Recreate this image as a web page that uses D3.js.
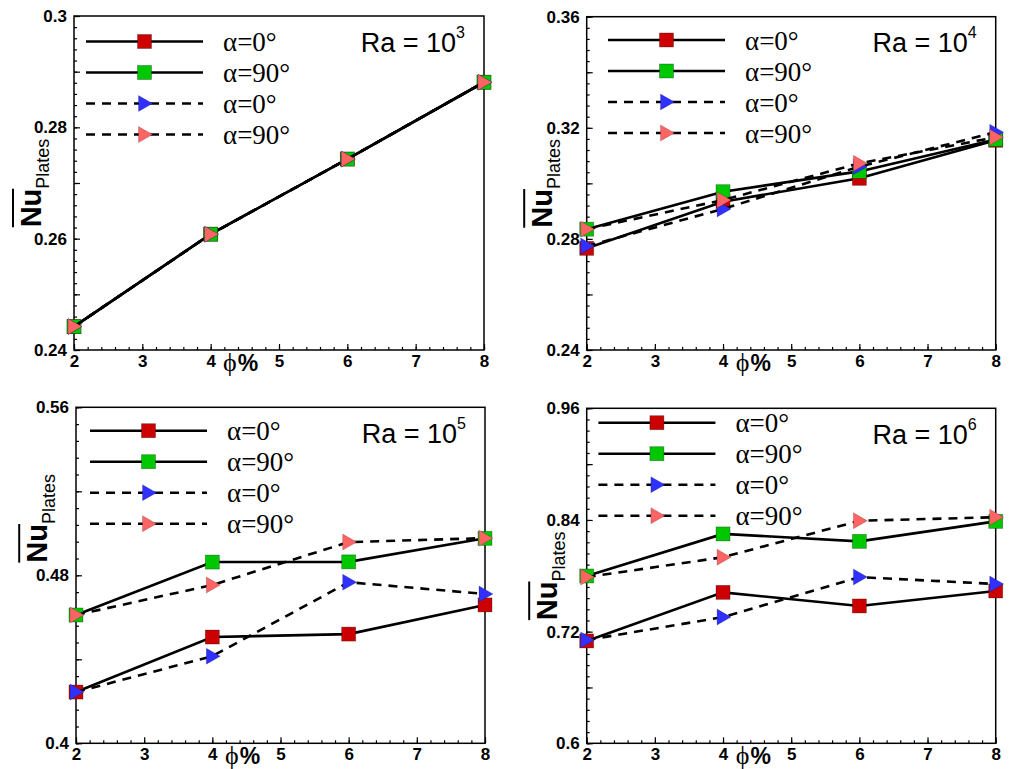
<!DOCTYPE html>
<html>
<head>
<meta charset="utf-8">
<script src="https://cdn.jsdelivr.net/npm/d3@7"></script>
<style>
  body { margin: 0; background: #fff; }
  svg { display: block; }
</style>
</head>
<body>
<div id="chart"></div>
<script>
// x values: nanoparticle volume fraction (%)
var phi = [2, 4, 6, 8];
var xTickLabels = [2, 3, 4, 5, 6, 7, 8];
var legendLabels = ["α=0°", "α=90°", "α=0°", "α=90°"];
var raExponents = ["3", "4", "5", "6"];

// average Nu on the plates; series order: solid α=0, solid α=90, dashed α=0, dashed α=90
var nuRa3 = [
  [0.2442, 0.2608, 0.2743, 0.2881],
  [0.2442, 0.2608, 0.2743, 0.2881],
  [0.2442, 0.2608, 0.2743, 0.2881],
  [0.2442, 0.2608, 0.2743, 0.2881]
];
var nuRa4 = [
  [0.2766, 0.2934, 0.3018, 0.3155],
  [0.2835, 0.2970, 0.3043, 0.3158],
  [0.2774, 0.2908, 0.3060, 0.3184],
  [0.2835, 0.2940, 0.3072, 0.3166]
];
var nuRa5 = [
  [0.4244, 0.4506, 0.4520, 0.4659],
  [0.4611, 0.4863, 0.4864, 0.4976],
  [0.4244, 0.4415, 0.4767, 0.4711],
  [0.4611, 0.4754, 0.4958, 0.4977]
];
var nuRa6 = [
  [0.7100, 0.7622, 0.7476, 0.7637],
  [0.7798, 0.8250, 0.8170, 0.8385],
  [0.7110, 0.7356, 0.7786, 0.7712],
  [0.7786, 0.8000, 0.8391, 0.8430]
];

// labelled y ticks of each panel
var yTicksRa3 = [0.24, 0.26, 0.28, 0.30];
var yTicksRa4 = [0.24, 0.28, 0.32, 0.36];
var yTicksRa5 = [0.40, 0.48, 0.56];
var yTicksRa6 = [0.60, 0.72, 0.84, 0.96];

var colours = ["#CC0000", "#00C800", "#3030FF", "#FF6464"];
var dashes = [null, null, "9,7", "9,7"];
var shapes = ["square", "square", "triangle", "triangle"];

var panels = [
  {data: nuRa3, ticks: yTicksRa3, left: 74, right: 484, top: 16, bottom: 350, legX: 12, legY: 25.5, titleX: -33.5, titleDy: 0},
  {data: nuRa4, ticks: yTicksRa4, left: 586.7, right: 995.7, top: 16.7, bottom: 350, legX: 21.3, legY: 23.3, titleX: -35, titleDy: 0},
  {data: nuRa5, ticks: yTicksRa5, left: 76, right: 485, top: 407.3, bottom: 743.3, legX: 14, legY: 23.4, titleX: -29.3, titleDy: -57},
  {data: nuRa6, ticks: yTicksRa6, left: 586.7, right: 995.7, top: 408.3, bottom: 743.3, legX: 11.7, legY: 14.4, titleX: -30, titleDy: 0}
];

var svg = d3.select("#chart").append("svg")
    .attr("width", 1010)
    .attr("height", 769)
    .style("background", "#fff");

var sansBold = "Liberation Sans, Arial, sans-serif";
var serif = "Liberation Serif, DejaVu Serif, serif";

function fmt(d) { return String(+d.toFixed(4)); }

// draws one marker centred at (cx, cy)
function marker(g, shape, colour, cx, cy) {
  if (shape == "square") {
    g.append("rect")
      .attr("x", cx - 7).attr("y", cy - 7)
      .attr("width", 14).attr("height", 14)
      .attr("fill", colour)
      .attr("stroke", "rgba(0,0,0,0.35)")
      .attr("stroke-width", 0.8);
  } else {
    g.append("path")
      .attr("d", "M" + (cx - 6) + "," + (cy - 8) + "L" + (cx + 8) + "," + cy + "L" + (cx - 6) + "," + (cy + 8) + "Z")
      .attr("fill", colour)
      .attr("stroke", "rgba(0,0,0,0.3)")
      .attr("stroke-width", 0.6);
  }
}

panels.forEach(function(p, i) {
  var g = svg.append("g");

  var x = d3.scaleLinear().domain([2, 8]).range([p.left, p.right]);
  var y = d3.scaleLinear()
      .domain([p.ticks[0], p.ticks[p.ticks.length - 1]])
      .range([p.bottom, p.top]);

  var step = p.ticks[1] - p.ticks[0];
  var minorY = d3.range(0, (p.ticks[p.ticks.length - 1] - p.ticks[0]) / step * 10 + 0.5)
      .map(function(k) { return p.ticks[0] + k * step / 10; });
  var mediumY = d3.range(0, p.ticks.length - 1)
      .map(function(k) { return p.ticks[0] + (k + 0.5) * step; });
  var minorX = d3.range(0, 31).map(function(k) { return 2 + k * 0.2; });

  // frame
  g.append("rect")
    .attr("x", p.left).attr("y", p.top)
    .attr("width", p.right - p.left).attr("height", p.bottom - p.top)
    .attr("fill", "none")
    .attr("stroke", "#000")
    .attr("stroke-width", 1.5);

  // minor ticks (inside the frame)
  g.append("g")
    .attr("transform", "translate(" + p.left + ",0)")
    .call(d3.axisLeft(y).tickValues(minorY).tickSize(-3).tickFormat(""))
    .call(function(a) { a.select(".domain").remove(); });
  g.append("g")
    .attr("transform", "translate(0," + p.bottom + ")")
    .call(d3.axisBottom(x).tickValues(minorX).tickSize(-3).tickFormat(""))
    .call(function(a) { a.select(".domain").remove(); });
  g.append("g")
    .attr("transform", "translate(" + p.left + ",0)")
    .call(d3.axisLeft(y).tickValues(mediumY).tickSize(-6).tickFormat(""))
    .call(function(a) { a.select(".domain").remove(); });

  // labelled ticks
  var ya = g.append("g")
    .attr("transform", "translate(" + p.left + ",0)")
    .call(d3.axisLeft(y).tickValues(p.ticks).tickSize(-6).tickPadding(7).tickFormat(fmt));
  ya.select(".domain").remove();
  ya.selectAll("text")
    .style("font-family", sansBold).style("font-weight", "bold")
    .style("font-size", "17px").attr("fill", "#000");

  var xa = g.append("g")
    .attr("transform", "translate(0," + p.bottom + ")")
    .call(d3.axisBottom(x).tickValues(xTickLabels).tickSize(-6).tickPadding(5).tickFormat(d3.format("d")));
  xa.select(".domain").remove();
  xa.selectAll("text")
    .style("font-family", sansBold).style("font-weight", "bold")
    .style("font-size", "17px").attr("fill", "#000");
  g.selectAll(".tick line").attr("stroke", "#000").attr("stroke-width", 1.2);

  // x axis title
  var xt = g.append("text")
    .attr("x", p.left + 149)
    .attr("y", p.bottom + 20.5);
  xt.append("tspan").text("ϕ")
    .style("font-family", serif).style("font-size", "26px");
  xt.append("tspan").text("%")
    .attr("dx", 1)
    .style("font-family", sansBold).style("font-weight", "bold").style("font-size", "23px");

  // y axis title: Nu with overbar, subscript Plates
  var yt = g.append("g")
    .attr("transform", "translate(" + (p.left + p.titleX) + "," + ((p.top + p.bottom) / 2 + p.titleDy) + ")rotate(-90)");
  var tt = yt.append("text").attr("x", 0).attr("y", 0);
  tt.append("tspan").text("Nu")
    .style("font-family", sansBold).style("font-weight", "bold").style("font-size", "29px");
  tt.append("tspan").text("Plates")
    .attr("dy", 8)
    .style("font-family", sansBold).style("font-size", "18px");
  var total = tt.node().getComputedTextLength();
  var nuLen = tt.node().getSubStringLength(0, 2);
  tt.attr("x", -total / 2);
  yt.append("line")
    .attr("x1", -total / 2).attr("x2", -total / 2 + nuLen)
    .attr("y1", -27.5).attr("y2", -27.5)
    .attr("stroke", "#000").attr("stroke-width", 2);

  // Ra label
  var rt = g.append("text")
    .attr("x", p.right - 19)
    .attr("y", p.top + 35.5)
    .attr("text-anchor", "end")
    .style("font-family", "Liberation Sans, Arial, sans-serif");
  rt.append("tspan").text("Ra = 10").style("font-size", "27px");
  rt.append("tspan").text(raExponents[i]).attr("dy", -14).style("font-size", "16px");

  // legend
  legendLabels.forEach(function(lab, k) {
    var ly = p.top + p.legY + k * 31;
    var lx = p.left + p.legX;
    g.append("line")
      .attr("x1", lx).attr("x2", lx + 117)
      .attr("y1", ly).attr("y2", ly)
      .attr("stroke", "#000").attr("stroke-width", 2.6)
      .attr("stroke-dasharray", dashes[k]);
    marker(g, shapes[k], colours[k], lx + 58.5, ly);
    g.append("text")
      .attr("x", lx + 137).attr("y", ly + 9.5)
      .style("font-family", serif).style("font-size", "27px")
      .text(lab);
  });

  // data series
  var line = d3.line()
    .x(function(d, j) { return x(phi[j]); })
    .y(function(d) { return y(d); });

  p.data.forEach(function(vals, k) {
    g.append("path")
      .datum(vals)
      .attr("d", line)
      .attr("fill", "none")
      .attr("stroke", "#000")
      .attr("stroke-width", 2.6)
      .attr("stroke-dasharray", dashes[k]);
    vals.forEach(function(v, j) {
      marker(g, shapes[k], colours[k], x(phi[j]), y(v));
    });
  });
});
</script>
</body>
</html>
